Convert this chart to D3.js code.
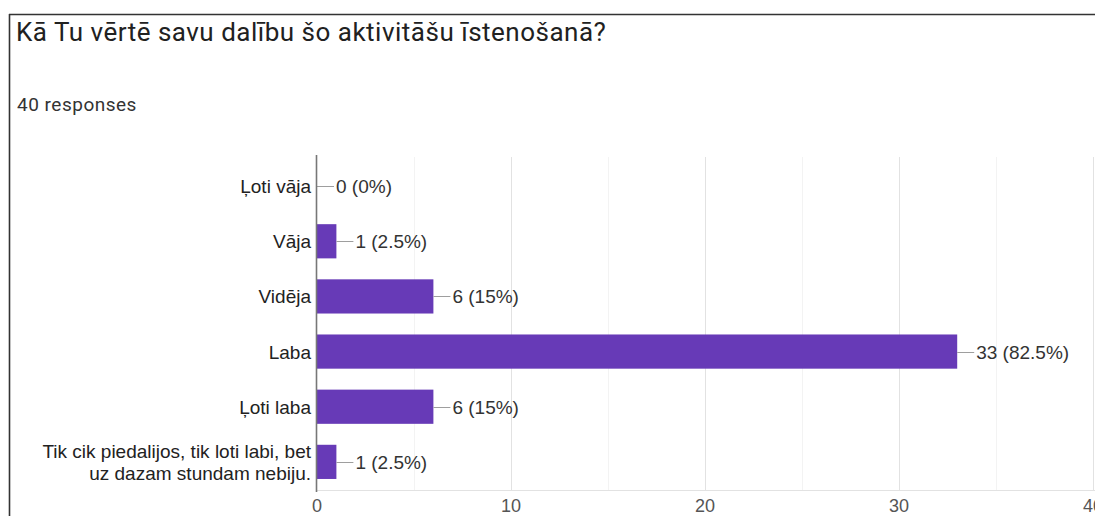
<!DOCTYPE html>
<html><head><meta charset="utf-8">
<script src="https://cdn.jsdelivr.net/npm/d3@7"></script>
<style>body{margin:0;background:#fff;overflow:hidden}</style>
</head><body>
<svg id="c" width="1095" height="516"></svg>
<script>
const categories = [["Ļoti vāja"],["Vāja"],["Vidēja"],["Laba"],["Ļoti laba"],["Tik cik piedalijos, tik loti labi, bet","uz dazam stundam nebiju."]];
const counts = [0, 1, 6, 33, 6, 1];
const percents = ["0%", "2.5%", "15%", "82.5%", "15%", "2.5%"];
const majorTicks = [0, 10, 20, 30, 40];
const minorTicks = [5, 15, 25, 35];
const title = "Kā Tu vērtē savu dalību šo aktivitāšu īstenošanā?";
const subtitle = "40 responses";

const svg = d3.select("#c");
const x = d3.scaleLinear().domain([0, 40]).range([317, 1093]);
const y = d3.scaleBand().domain(d3.range(categories.length)).range([158, 490]).paddingInner(0.38).paddingOuter(0.2);
const labelFont = "Liberation Sans, Arial, sans-serif";

// border
svg.append("line").attr("x1",9).attr("x2",1095).attr("y1",14.5).attr("y2",14.5).attr("stroke","#333").attr("stroke-width",1.6);
svg.append("line").attr("x1",9.5).attr("x2",9.5).attr("y1",14).attr("y2",516).attr("stroke","#333").attr("stroke-width",1.6);

svg.append("text").attr("x",16).attr("y",41).attr("font-family","Roboto").attr("font-size",26)
  .attr("letter-spacing","0.5px").attr("fill","#212121").text(title);
svg.append("text").attr("x",17).attr("y",111).attr("font-family","Roboto").attr("font-size",19)
  .attr("letter-spacing","0.5px").attr("fill","#333").text(subtitle);

// gridlines
svg.append("g").selectAll("line").data(minorTicks).join("line")
  .attr("x1",d=>Math.round(x(d))+0.5).attr("x2",d=>Math.round(x(d))+0.5).attr("y1",157).attr("y2",490)
  .attr("stroke","#f3f3f3").attr("stroke-width",1);
svg.append("g").selectAll("line").data(majorTicks.slice(1)).join("line")
  .attr("x1",d=>Math.round(x(d))+0.5).attr("x2",d=>Math.round(x(d))+0.5).attr("y1",157).attr("y2",490)
  .attr("stroke","#e2e2e2").attr("stroke-width",1);
svg.append("line").attr("x1",317).attr("x2",1095).attr("y1",490.5).attr("y2",490.5).attr("stroke","#e2e2e2");

// bars
svg.append("g").selectAll("rect").data(counts).join("rect")
  .attr("x",x(0)).attr("y",(d,i)=>y(i)).attr("width",d=>x(d)-x(0)).attr("height",y.bandwidth())
  .attr("fill","#673ab7");

// leader lines & value labels
const vl = svg.append("g");
counts.forEach((d,i)=>{
  const cy = Math.round(y(i)+y.bandwidth()/2)+0.5;
  vl.append("line").attr("x1",x(d)).attr("x2",x(d)+17).attr("y1",cy).attr("y2",cy).attr("stroke","#9e9e9e").attr("stroke-width",1);
  vl.append("text").attr("x",x(d)+19).attr("y",cy+6.5).attr("font-family",labelFont).attr("font-size",19).attr("fill","#333")
    .text(`${d} (${percents[i]})`);
});

// y axis line
svg.append("line").attr("x1",316.5).attr("x2",316.5).attr("y1",155).attr("y2",492).attr("stroke","#777").attr("stroke-width",1.6);

// category labels
const cl = svg.append("g");
categories.forEach((lines,i)=>{
  const cy = y(i)+y.bandwidth()/2;
  const t = cl.append("text").attr("text-anchor","end").attr("font-family",labelFont).attr("font-size",19).attr("fill","#222");
  const n = lines.length;
  lines.forEach((s,k)=>{
    t.append("tspan").attr("x",311).attr("y",cy+7+(k-(n-1)/2)*22).text(s);
  });
});

// x tick labels
svg.append("g").selectAll("text").data(majorTicks).join("text")
  .attr("x",d=>x(d)).attr("y",512).attr("text-anchor","middle")
  .attr("font-family",labelFont).attr("font-size",18).attr("fill","#555").text(d=>d);
</script>
</body></html>
